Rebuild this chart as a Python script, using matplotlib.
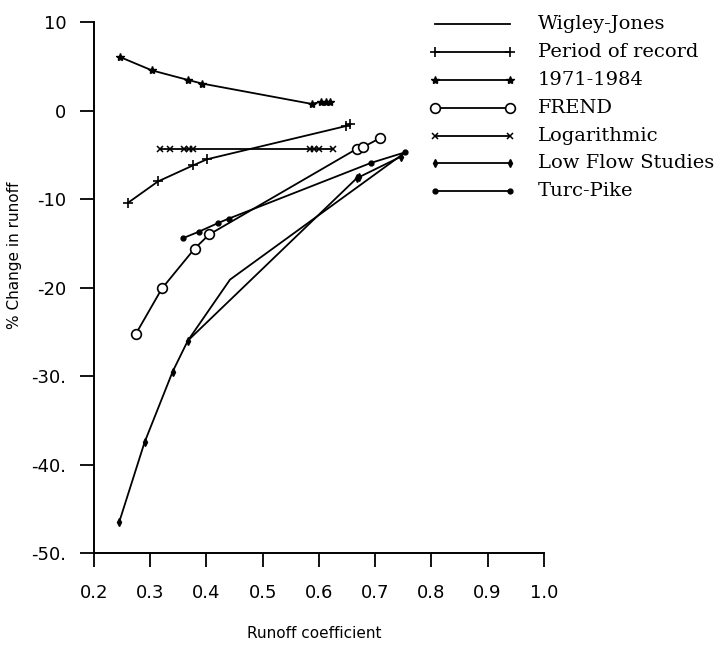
import numpy as np
import matplotlib.pyplot as plt

# runoff coefficient (x) and % change in runoff (y) for each method
wj_x = [0.367, 0.442, 0.754]
wj_y = [-26.0, -19.1, -4.7]

por_x = [0.261, 0.314, 0.376, 0.401, 0.648, 0.656]
por_y = [-10.4, -8.0, -6.2, -5.5, -1.75, -1.5]

p7184_x = [0.246, 0.303, 0.367, 0.393, 0.587, 0.603, 0.613, 0.619]
p7184_y = [6.07, 4.55, 3.47, 3.05, 0.76, 0.98, 0.94, 1.02]

frend_x = [0.274, 0.321, 0.379, 0.405, 0.668, 0.678, 0.709]
frend_y = [-25.3, -20.1, -15.6, -14.0, -4.3, -4.15, -3.1]

log_x = [0.318, 0.336, 0.361, 0.369, 0.376, 0.584, 0.592, 0.600, 0.626]
log_y = [-4.3, -4.3, -4.3, -4.3, -4.3, -4.3, -4.3, -4.3, -4.3]

lfs_x = [0.245, 0.290, 0.340, 0.367, 0.668, 0.672, 0.746]
lfs_y = [-46.5, -37.5, -29.5, -26.0, -7.6, -7.5, -5.2]

tp_x = [0.359, 0.386, 0.421, 0.440, 0.693, 0.754]
tp_y = [-14.4, -13.7, -12.7, -12.2, -5.9, -4.7]

labels = ['Wigley-Jones', 'Period of record', '1971-1984', 'FREND',
          'Logarithmic', 'Low Flow Studies', 'Turc-Pike']

xticks = [0.2, 0.3, 0.4, 0.5, 0.6, 0.7, 0.8, 0.9, 1.0]
yticks = [-50, -40, -30, -20, -10, 0, 10]
ytick_labels = ['-50.', '-40.', '-30.', '-20', '-10', '0', '10']

fig = plt.figure(figsize=(7.28, 6.51), dpi=100)
ax = fig.add_axes([0.129, 0.1505, 0.618, 0.8155])

lw = 1.3
styles = [dict(marker=None),
          dict(marker='+', ms=7, mew=1.2),
          dict(marker='*', ms=6),
          dict(marker='o', ms=7, mfc='white', mew=1.2),
          dict(marker='x', ms=4.5, mew=1.1),
          dict(marker='d', ms=4),
          dict(marker='o', ms=3.5)]
series = [(wj_x, wj_y), (por_x, por_y), (p7184_x, p7184_y), (frend_x, frend_y),
          (log_x, log_y), (lfs_x, lfs_y), (tp_x, tp_y)]
for (xs, ys), st in zip(series, styles):
    ax.plot(xs, ys, color='k', lw=lw, **st)

ax.set_xlim(0.2, 1.0)
ax.set_ylim(-50, 10)
ax.set_xticks(xticks)
ax.set_xticklabels(['%.1f' % v for v in xticks])
ax.set_yticks(yticks)
ax.set_yticklabels(ytick_labels)
ax.tick_params(axis='both', direction='out', length=10, width=1.3, labelsize=13)
ax.tick_params(axis='x', pad=12)
ax.tick_params(axis='y', pad=10)
for s in ['top', 'right']:
    ax.spines[s].set_visible(False)
for s in ['left', 'bottom']:
    ax.spines[s].set_linewidth(1.4)

ax.set_xlabel('Runoff coefficient', fontsize=11)
ax.xaxis.set_label_coords(0.49, -0.137)
ax.set_ylabel('% Change in runoff', fontsize=11)
ax.yaxis.set_label_coords(-0.16, 0.56)

# legend drawn by hand to the right of the axes
row0, step = 0.963, 0.0428
for i, (lab, st) in enumerate(zip(labels, styles)):
    yy = row0 - i * step
    fig.add_artist(plt.Line2D([0.598, 0.700], [yy, yy], color='k', lw=lw,
                              transform=fig.transFigure, markevery=[0, 1], **st))
    fig.text(0.739, yy, lab, fontsize=14, family='DejaVu Serif', va='center')

fig.savefig('out.png', dpi=100)
